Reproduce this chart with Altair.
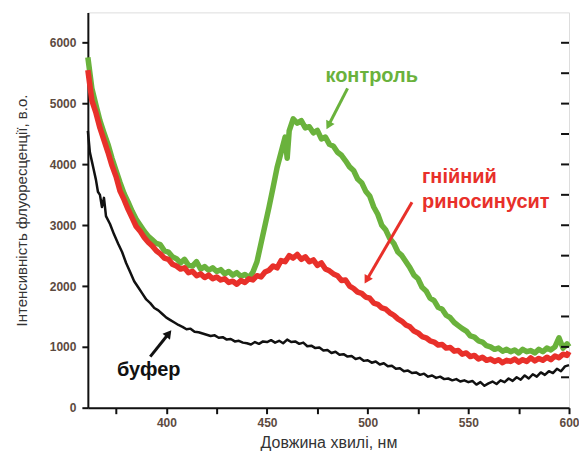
import altair as alt
import pandas as pd

# ---- data ----
wl_control = [361, 363, 365, 367, 369, 371, 373, 375, 377, 379, 381, 383, 385, 387, 389, 391, 393, 395, 397, 399,
              401, 403, 405, 407, 409, 411, 413, 415, 417, 419, 421, 423, 425, 427, 429, 431, 433, 435, 437, 439,
              441, 443, 445, 447, 449, 451, 453, 455, 457, 459, 460, 461, 463, 465, 467, 469, 471, 473, 475, 477,
              479, 481, 483, 485, 487, 489, 491, 493, 495, 497, 499, 501, 503, 505, 507, 509, 511, 513, 515, 517,
              519, 521, 523, 525, 527, 529, 531, 533, 535, 537, 539, 541, 543, 545, 547, 549, 551, 553, 555, 557,
              559, 561, 563, 565, 567, 569, 571, 573, 575, 577, 579, 581, 583, 585, 587, 589, 591, 593, 595, 597, 599, 600]
control = [5760, 5250, 4980, 4720, 4520, 4330, 4100, 3900, 3700, 3520, 3380, 3230, 3100, 3000, 2900, 2820, 2760, 2700, 2680, 2580,
           2560, 2480, 2450, 2380, 2440, 2340, 2330, 2400, 2280, 2320, 2260, 2300, 2240, 2270, 2200, 2240, 2180, 2220, 2160, 2190,
           2140, 2230, 2400, 2700, 3000, 3300, 3620, 3950, 4200, 4450, 4100, 4550, 4750, 4680, 4720, 4600, 4620, 4520, 4560, 4420,
           4450, 4330, 4300, 4200, 4150, 4060, 3960, 3900, 3760, 3700, 3560, 3480, 3300, 3180, 3000, 2920, 2780, 2700, 2560, 2500,
           2400, 2300, 2180, 2120, 1980, 1920, 1800, 1760, 1650, 1620, 1520, 1480, 1400, 1350, 1300, 1260, 1180, 1160, 1100, 1080,
           1020, 1000, 960, 980, 930, 960, 920, 950, 900, 960, 920, 940, 900, 960, 920, 980, 950, 1000, 1150, 980, 1050, 1000]

wl_rhino = [361, 363, 365, 367, 369, 371, 373, 375, 377, 379, 381, 383, 385, 387, 389, 391, 393, 395, 397, 399,
            401, 403, 405, 407, 409, 411, 413, 415, 417, 419, 421, 423, 425, 427, 429, 431, 433, 435, 437, 439,
            441, 443, 445, 447, 449, 451, 453, 455, 457, 459, 461, 463, 465, 467, 469, 471, 473, 475, 477, 479,
            481, 483, 485, 487, 489, 491, 493, 495, 497, 499, 501, 503, 505, 507, 509, 511, 513, 515, 517, 519,
            521, 523, 525, 527, 529, 531, 533, 535, 537, 539, 541, 543, 545, 547, 549, 551, 553, 555, 557, 559,
            561, 563, 565, 567, 569, 571, 573, 575, 577, 579, 581, 583, 585, 587, 589, 591, 593, 595, 597, 599, 600]
rhino = [5550, 5050, 4850, 4600, 4400, 4200, 3980, 3800, 3560, 3420, 3260, 3120, 2980, 2900, 2800, 2720, 2660, 2580, 2530, 2460,
         2440, 2360, 2330, 2280, 2300, 2220, 2240, 2170, 2200, 2140, 2180, 2120, 2150, 2100, 2120, 2060, 2080, 2030, 2090, 2060,
         2120, 2100, 2170, 2150, 2230, 2260, 2330, 2300, 2420, 2400, 2500, 2460, 2520, 2440, 2480, 2400, 2430, 2340, 2380, 2280,
         2250, 2200, 2170, 2090, 2100, 2000, 1960, 1900, 1880, 1820, 1800, 1720, 1700, 1640, 1620, 1560, 1520, 1460, 1420, 1360,
         1330, 1260, 1230, 1170, 1150, 1100, 1080, 1030, 1040, 980, 990, 930, 940, 880, 900, 840, 860, 800, 830, 780,
         800, 760, 790, 740, 780, 760, 800, 750, 790, 760, 820, 770, 810, 780, 830, 790, 850, 820, 880, 860, 920]

wl_buffer = [361, 362, 363, 364, 365, 366, 367, 368, 369, 370, 372, 374, 376, 378, 380, 382, 384, 386, 388, 390,
             392, 394, 396, 398, 400, 402, 404, 406, 408, 410, 412, 414, 416, 418, 420, 422, 424, 426, 428, 430,
             432, 434, 436, 438, 440, 442, 444, 446, 448, 450, 452, 454, 456, 458, 460, 462, 464, 466, 468, 470,
             472, 474, 476, 478, 480, 482, 484, 486, 488, 490, 492, 494, 496, 498, 500, 502, 504, 506, 508, 510,
             512, 514, 516, 518, 520, 522, 524, 526, 528, 530, 532, 534, 536, 538, 540, 542, 544, 546, 548, 550,
             552, 554, 556, 558, 560, 562, 564, 566, 568, 570, 572, 574, 576, 578, 580, 582, 584, 586, 588, 590,
             592, 594, 596, 598, 600]
buffer = [4550, 4200, 4050, 3900, 3750, 3550, 3500, 3300, 3450, 3150, 3020, 2850, 2700, 2560, 2380, 2230, 2080, 1980, 1880, 1780,
          1720, 1640, 1600, 1540, 1480, 1440, 1400, 1360, 1330, 1290, 1300, 1250, 1240, 1220, 1200, 1180, 1190, 1150, 1160, 1120,
          1130, 1090, 1100, 1070, 1060, 1040, 1080, 1050, 1090, 1080, 1110, 1070, 1100, 1060, 1120, 1080, 1090, 1050, 1070, 1010,
          1020, 980, 990, 940, 950, 900, 920, 870, 880, 840, 850, 800, 820, 770, 780, 740, 760, 710, 730, 680,
          690, 640, 650, 600, 610, 570, 580, 540, 560, 510, 530, 490, 510, 470, 480, 450, 470, 430, 450, 420,
          440, 380, 420, 360, 400, 430, 390, 450, 420, 480, 440, 500, 460, 530, 480, 550, 510, 580, 540, 600,
          570, 640, 600, 680, 700]

y_ticks = [0, 500, 1000, 1500, 2000, 2500, 3000, 3500, 4000, 4500, 5000, 5500, 6000]
x_ticks = [375, 400, 425, 450, 475, 500, 525, 550, 575, 600]
right_ticks = [500, 1000, 1500, 2000, 2500, 3000, 3500, 4000, 4500, 5000, 5500, 6000]

labels = ["контроль", "гнійний", "риносинусит", "буфер"]
label_x = [479, 527, 527, 375.5]
label_y = [5450, 3800, 3380, 620]
label_color = ["#6ab23c", "#e8302a", "#e8302a", "#111111"]

arrow_x = [490, 522, 392]
arrow_y = [5250, 3380, 840]
arrow_x2 = [480.5, 499.5, 401.2]
arrow_y2 = [4640, 2100, 1220]
arrow_angle = [208, 210, 38]
arrow_color = ["#6ab23c", "#e8302a", "#111111"]

# ---- tables ----
df_c = pd.DataFrame({"wl": wl_control, "v": control})
df_r = pd.DataFrame({"wl": wl_rhino, "v": rhino})
df_b = pd.DataFrame({"wl": wl_buffer, "v": buffer})
df_lab = pd.DataFrame({"x": label_x, "y": label_y, "t": labels, "c": label_color})
df_arr = pd.DataFrame({"x": arrow_x, "y": arrow_y, "x2": arrow_x2, "y2": arrow_y2,
                       "a": arrow_angle, "c": arrow_color})
df_rt = pd.DataFrame({"v": right_ticks})

xscale = alt.Scale(domain=[361, 600], nice=False, zero=False)
yscale = alt.Scale(domain=[0, 6500], nice=False)

FONT = "Liberation Sans"

x_axis = alt.Axis(values=x_ticks, labelExpr="datum.value % 50 == 0 ? datum.value : ''",
                  title="Довжина хвилі, нм", grid=False, tickSize=6, tickWidth=2, tickColor="#111",
                  domainColor="#111", domainWidth=2, labelFont=FONT, labelFontSize=12,
                  labelFontWeight="bold", labelColor="#5c4a40", labelPadding=4, labelFlush=False,
                  titleFont=FONT, titleFontSize=16, titleFontWeight="normal", titleColor="#333",
                  titlePadding=6)
y_axis = alt.Axis(values=y_ticks, labelExpr="datum.value % 1000 == 0 ? datum.value : ''",
                  title="Інтенсивність флуоресценції, в.о.", grid=False, tickSize=6, tickWidth=2,
                  tickColor="#111", domainColor="#111", domainWidth=2, labelFont=FONT,
                  labelFontSize=12, labelFontWeight="bold", labelColor="#5c4a40", labelPadding=6,
                  labelFlush=False,
                  titleFont=FONT, titleFontSize=15, titleFontWeight="normal", titleColor="#333",
                  titlePadding=20)

base_c = alt.Chart(df_c).mark_line(color="#6ab23c", strokeWidth=5.5, strokeJoin="round").encode(
    x=alt.X("wl:Q", scale=xscale, axis=x_axis),
    y=alt.Y("v:Q", scale=yscale, axis=y_axis),
)
line_r = alt.Chart(df_r).mark_line(color="#e8302a", strokeWidth=5.5, strokeJoin="round").encode(
    x=alt.X("wl:Q", scale=xscale), y=alt.Y("v:Q", scale=yscale))
line_b = alt.Chart(df_b).mark_line(color="#111111", strokeWidth=2.5, strokeJoin="round").encode(
    x=alt.X("wl:Q", scale=xscale), y=alt.Y("v:Q", scale=yscale))

rticks = alt.Chart(df_rt).mark_rule(color="#111", strokeWidth=2).encode(
    y=alt.Y("v:Q", scale=yscale), x=alt.value(474), x2=alt.value(482))

arrows = alt.Chart(df_arr).mark_rule(strokeWidth=3).encode(
    x=alt.X("x:Q", scale=xscale), y=alt.Y("y:Q", scale=yscale),
    x2="x2:Q", y2="y2:Q", color=alt.Color("c:N", scale=None))
heads = alt.Chart(df_arr).mark_point(shape="triangle-up", filled=True, size=90, opacity=1).encode(
    x=alt.X("x2:Q", scale=xscale), y=alt.Y("y2:Q", scale=yscale),
    angle=alt.Angle("a:Q", scale=None), color=alt.Color("c:N", scale=None))

texts = alt.Chart(df_lab).mark_text(font=FONT, fontSize=20, fontWeight="bold", align="left",
                                    baseline="middle").encode(
    x=alt.X("x:Q", scale=xscale), y=alt.Y("y:Q", scale=yscale), text="t:N",
    color=alt.Color("c:N", scale=None))

chart = alt.layer(base_c, line_r, line_b, rticks, arrows, heads, texts).properties(
    width=482, height=396,
    autosize=alt.AutoSizeParams(type="none"),
    padding={"left": 80, "top": 4, "right": 10, "bottom": 50},
).configure_view(stroke="#111", strokeWidth=2).configure(background="white")

chart.save("out.html", embed_options={"renderer": "svg", "actions": False})
